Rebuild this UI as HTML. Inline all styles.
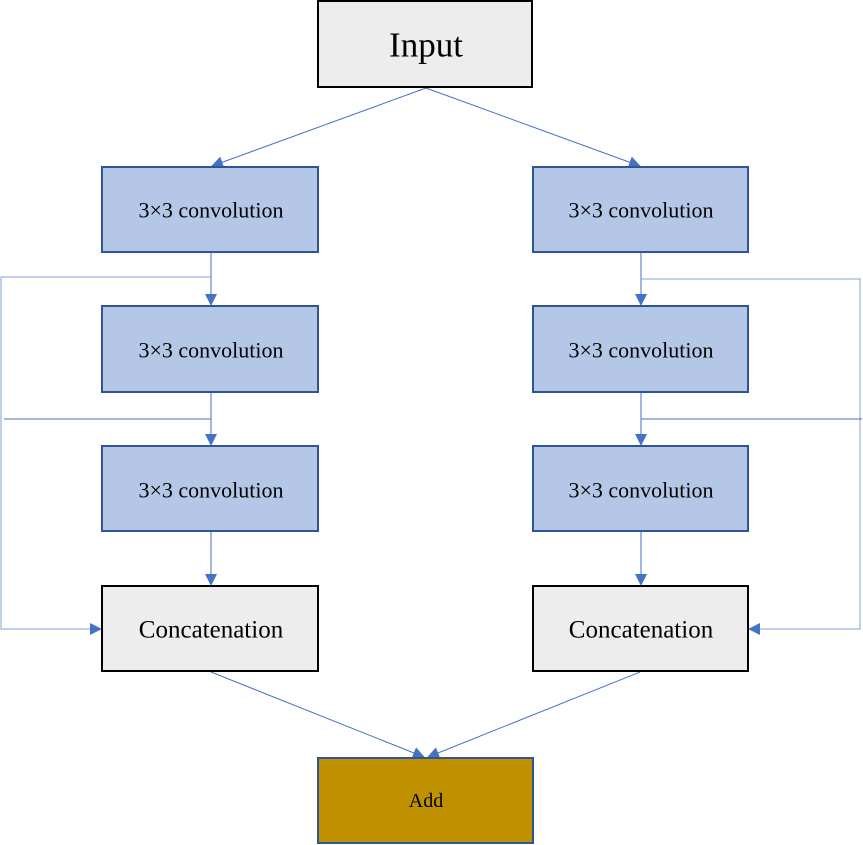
<!DOCTYPE html>
<html><head><style>
body{margin:0;background:#fff;}
svg{display:block;}
text{font-family:"Liberation Serif",serif;text-anchor:middle;dominant-baseline:central;fill:#000;}
</style></head><body>
<svg width="863" height="845" viewBox="0 0 863 845">
<defs>
<marker id="a" markerWidth="12" markerHeight="12" refX="11" refY="6" orient="auto" markerUnits="userSpaceOnUse">
<path d="M0,0 L12,6 L0,12 Z" fill="#4472C4"/>
</marker>
</defs>
<g stroke="#4472C4" stroke-width="1" fill="none">
<line x1="426" y1="88" x2="212" y2="166" marker-end="url(#a)"/>
<line x1="426" y1="88" x2="640" y2="166" marker-end="url(#a)"/>
<line x1="211" y1="252" x2="211" y2="305" marker-end="url(#a)"/>
<line x1="211" y1="392" x2="211" y2="445" marker-end="url(#a)"/>
<line x1="211" y1="531" x2="211" y2="585" marker-end="url(#a)"/>
<line x1="641" y1="252" x2="641" y2="305" marker-end="url(#a)"/>
<line x1="641" y1="392" x2="641" y2="445" marker-end="url(#a)"/>
<line x1="641" y1="531" x2="641" y2="585" marker-end="url(#a)"/>
<polyline stroke="#7F9FD8" points="211,277 1,277 1,629 101,629" marker-end="url(#a)"/>
<line x1="211" y1="419" x2="4" y2="419"/>
<polyline stroke="#7F9FD8" points="641,279 860,279 860,629 749,629" marker-end="url(#a)"/>
<line x1="641" y1="419" x2="862" y2="419"/>
<line x1="211" y1="672" x2="424" y2="757" marker-end="url(#a)"/>
<line x1="640" y1="672" x2="428" y2="757" marker-end="url(#a)"/>
</g>
<g stroke-width="2">
<rect x="318" y="1" width="214" height="86" fill="#EDEDED" stroke="#000"/>
<rect x="102" y="167" width="216" height="85" fill="#B4C7E7" stroke="#2F5597"/>
<rect x="102" y="306" width="216" height="86" fill="#B4C7E7" stroke="#2F5597"/>
<rect x="102" y="446" width="216" height="85" fill="#B4C7E7" stroke="#2F5597"/>
<rect x="102" y="586" width="216" height="85" fill="#EDEDED" stroke="#000"/>
<rect x="533" y="167" width="215" height="85" fill="#B4C7E7" stroke="#2F5597"/>
<rect x="533" y="306" width="215" height="86" fill="#B4C7E7" stroke="#2F5597"/>
<rect x="533" y="446" width="215" height="85" fill="#B4C7E7" stroke="#2F5597"/>
<rect x="533" y="586" width="215" height="85" fill="#EDEDED" stroke="#000"/>
<rect x="318" y="758" width="215" height="85" fill="#BF9000" stroke="#2F5597"/>
</g>
<text x="426" y="45" font-size="35">Input</text>
<text x="211" y="210" font-size="22">3×3 convolution</text>
<text x="211" y="350" font-size="22">3×3 convolution</text>
<text x="211" y="490" font-size="22">3×3 convolution</text>
<text x="211" y="630" font-size="25">Concatenation</text>
<text x="641" y="210" font-size="22">3×3 convolution</text>
<text x="641" y="350" font-size="22">3×3 convolution</text>
<text x="641" y="490" font-size="22">3×3 convolution</text>
<text x="641" y="630" font-size="25">Concatenation</text>
<text x="426" y="801" font-size="20">Add</text>
</svg>
</body></html>
